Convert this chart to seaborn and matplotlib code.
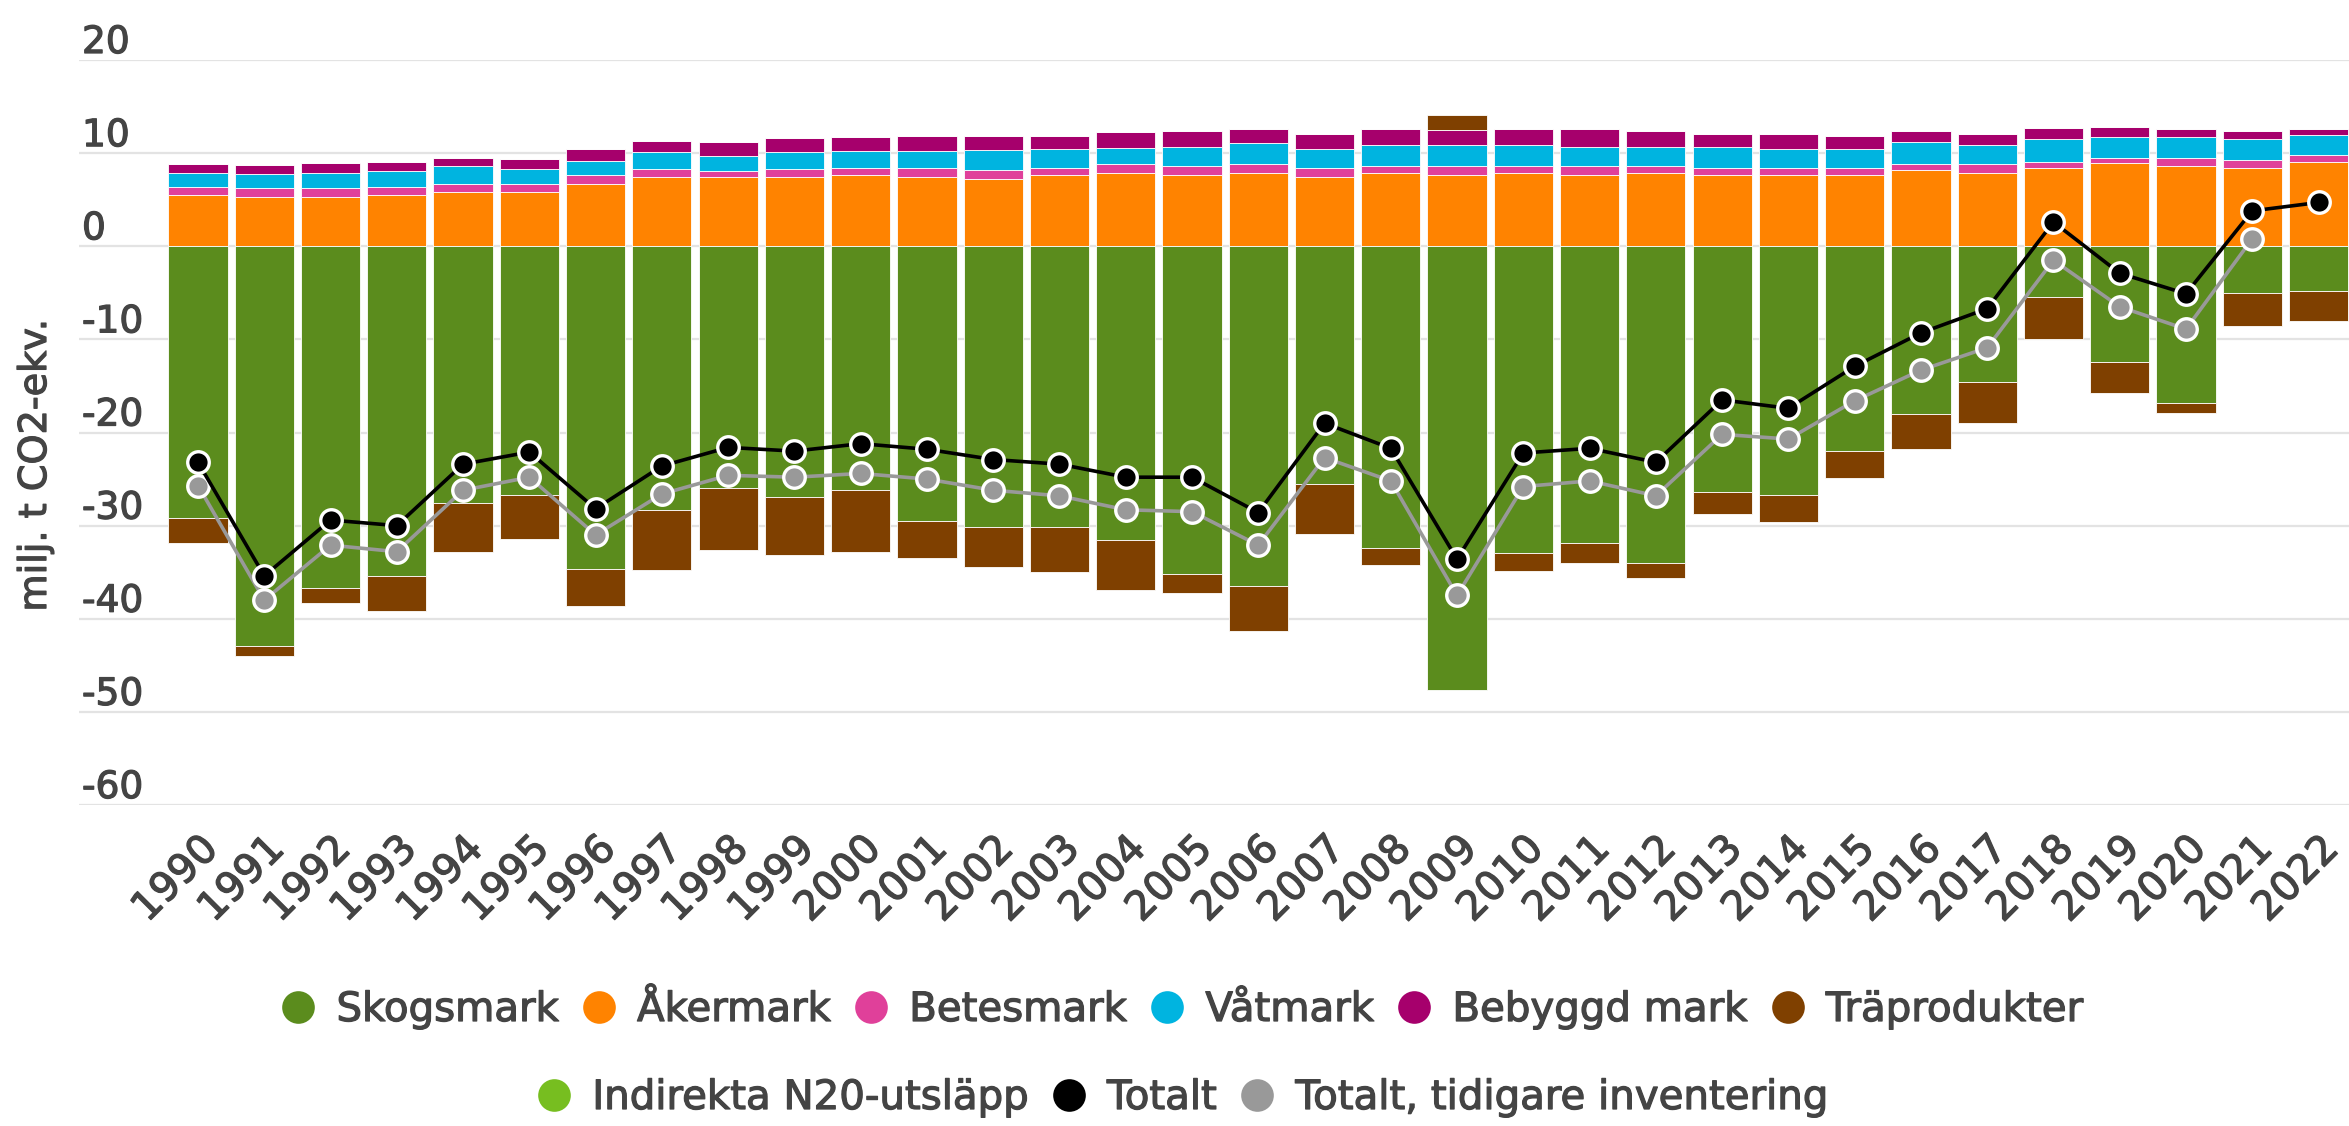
import numpy as np
import pandas as pd
import seaborn as sns
from matplotlib import pyplot as plt
from matplotlib import patheffects as pe
from matplotlib.lines import Line2D
from matplotlib.transforms import ScaledTranslation

years = [str(y) for y in range(1990, 2023)]

akermark = [5.5, 5.3, 5.3, 5.5, 5.8, 5.8, 6.7, 7.4, 7.4, 7.4, 7.6, 7.4, 7.2, 7.6, 7.9, 7.6, 7.9,
            7.4, 7.9, 7.6, 7.9, 7.6, 7.9, 7.6, 7.6, 7.6, 8.2, 7.9, 8.4, 8.9, 8.6, 8.4, 9.1]
betesmark = [0.9, 1.0, 1.0, 0.9, 0.9, 0.9, 0.9, 0.9, 0.7, 0.9, 0.8, 1.0, 1.0, 0.8, 0.9, 1.0, 0.9,
             1.0, 0.7, 1.0, 0.7, 1.0, 0.7, 0.8, 0.8, 0.8, 0.6, 0.9, 0.7, 0.6, 0.9, 0.9, 0.7]
vatmark = [1.5, 1.5, 1.6, 1.7, 1.9, 1.6, 1.6, 1.8, 1.6, 1.8, 1.8, 1.8, 2.1, 2.0, 1.8, 2.1, 2.3,
           2.0, 2.3, 2.3, 2.3, 2.1, 2.1, 2.3, 2.0, 2.0, 2.4, 2.1, 2.4, 2.2, 2.2, 2.2, 2.1]
bebyggd = [0.9, 0.9, 1.0, 1.0, 0.9, 1.1, 1.2, 1.2, 1.5, 1.5, 1.5, 1.6, 1.5, 1.4, 1.7, 1.7, 1.5,
           1.7, 1.7, 1.6, 1.7, 1.9, 1.7, 1.4, 1.7, 1.4, 1.2, 1.2, 1.2, 1.1, 0.9, 0.9, 0.7]
indirekta_n2o = [0.0, 0.0, 0.0, 0.0, 0.0, 0.0, 0.0, 0.0, 0.0, 0.0, 0.0, 0.0, 0.0, 0.0, 0.0, 0.0, 0.0,
                 0.0, 0.0, 0.0, 0.0, 0.0, 0.0, 0.0, 0.0, 0.0, 0.0, 0.0, 0.0, 0.0, 0.0, 0.0, 0.0]
skogsmark = [-29.2, -42.9, -36.7, -35.4, -27.6, -26.7, -34.7, -28.3, -26.0, -26.9, -26.2, -29.5,
             -30.1, -30.1, -31.5, -35.2, -36.5, -25.5, -32.4, -47.7, -32.9, -31.9, -34.0, -26.4,
             -26.7, -22.0, -18.0, -14.6, -5.4, -12.4, -16.8, -5.0, -4.8]
traprodukter = [-2.7, -1.1, -1.6, -3.8, -5.2, -4.7, -3.9, -6.5, -6.6, -6.3, -6.6, -4.0, -4.3, -4.9,
                -5.4, -2.0, -4.8, -5.4, -1.8, 1.6, -2.0, -2.1, -1.6, -2.3, -2.9, -2.9, -3.8, -4.4,
                -4.6, -3.4, -1.1, -3.6, -3.2]
totalt = [-23.2, -35.4, -29.4, -30.0, -23.4, -22.1, -28.2, -23.6, -21.6, -22.0, -21.2, -21.8, -22.9,
          -23.4, -24.8, -24.8, -28.6, -19.0, -21.7, -33.6, -22.2, -21.7, -23.2, -16.5, -17.4, -12.9,
          -9.3, -6.7, 2.6, -2.9, -5.1, 3.8, 4.7]
totalt_tidigare = [-25.7, -38.0, -32.1, -32.8, -26.2, -24.8, -31.0, -26.6, -24.6, -24.8, -24.4, -25.0,
                   -26.2, -26.8, -28.3, -28.5, -32.1, -22.7, -25.2, -37.5, -25.8, -25.2, -26.8, -20.2,
                   -20.7, -16.6, -13.3, -10.9, -1.5, -6.5, -8.9, 0.8, np.nan]

y_ticks = [-60, -50, -40, -30, -20, -10, 0, 10, 20]

colors = {
    "Skogsmark": "#5b8c1d",
    "Åkermark": "#ff8300",
    "Betesmark": "#e0409a",
    "Våtmark": "#00b4e0",
    "Bebyggd mark": "#a6006c",
    "Träprodukter": "#7f4000",
    "Indirekta N20-utsläpp": "#77be20",
    "Totalt": "#000000",
    "Totalt, tidigare inventering": "#999999",
}
text_col = "#444444"
bold = [pe.withStroke(linewidth=0.9, foreground=text_col)]

sns.set_theme(style="white")
plt.rcParams["font.family"] = ["DejaVu Sans"]

fig = plt.figure(figsize=(23.49, 11.26), dpi=100)
ax = fig.add_axes([79 / 2349, 1 - 805 / 1126, 1 - 79 / 2349, (805 - 60) / 1126])

bar_kw = dict(order=years, width=0.893, saturation=1, errorbar=None, ax=ax,
              edgecolor="white", linewidth=0.6)

# positive stack
pos_layers = [("Åkermark", akermark), ("Betesmark", betesmark), ("Våtmark", vatmark),
              ("Bebyggd mark", bebyggd), ("Indirekta N20-utsläpp", indirekta_n2o)]
bottom = np.zeros(len(years))
for name, vals in pos_layers:
    vals = np.array(vals)
    sns.barplot(x=years, y=vals, bottom=bottom, color=colors[name], **bar_kw)
    bottom = bottom + vals
pos_top = bottom

# negative stack
skog = np.array(skogsmark)
sns.barplot(x=years, y=skog, color=colors["Skogsmark"], **bar_kw)
tra = np.array(traprodukter)
tra_bottom = np.where(tra < 0, skog, pos_top)
sns.barplot(x=years, y=tra, bottom=tra_bottom, color=colors["Träprodukter"], **bar_kw)

pos = np.arange(len(years))
line_kw = dict(marker="o", markersize=15.5, markeredgecolor="white", markeredgewidth=2.4,
               linewidth=2.6, ax=ax, legend=False, zorder=5)
sns.lineplot(x=pos, y=np.array(totalt_tidigare), color=colors["Totalt, tidigare inventering"],
             markerfacecolor=colors["Totalt, tidigare inventering"], **line_kw)
sns.lineplot(x=pos, y=np.array(totalt), color=colors["Totalt"],
             markerfacecolor=colors["Totalt"], **line_kw)

ax.set_xlim(-1.796, 32.46)
ax.set_ylim(-60, 20)
ax.set_xlabel("")
ax.set_ylabel("")
for s in ax.spines.values():
    s.set_visible(False)

ax.set_yticks(y_ticks)
ax.set_yticklabels([])
ax.tick_params(axis="y", left=False, length=0)
ax.yaxis.grid(True, color="#e3e3e3", linewidth=1.6)
ax.xaxis.grid(False)
ax.set_axisbelow(True)

ylab_tr = ax.get_yaxis_transform() + ScaledTranslation(3 / 100, 7 / 100, fig.dpi_scale_trans)
for t in y_ticks:
    ax.text(0, t, str(t), transform=ylab_tr, ha="left", va="baseline",
            fontsize=27, color=text_col, path_effects=bold)

ax.tick_params(axis="x", length=0, pad=0, labelsize=29, labelcolor=text_col)
shift = ScaledTranslation(0.14, -0.38, fig.dpi_scale_trans)
for lbl in ax.get_xticklabels():
    lbl.set_rotation(45)
    lbl.set_horizontalalignment("right")
    lbl.set_verticalalignment("center")
    lbl.set_rotation_mode("anchor")
    lbl.set_transform(lbl.get_transform() + shift)
    lbl.set_path_effects(bold)

fig.text(36 / 2349, 1 - 465 / 1126, "milj. t CO2-ekv.", rotation=90, ha="center", va="center",
         fontsize=27.5, color=text_col, path_effects=bold)


def handle(name):
    return Line2D([], [], marker="o", linestyle="", markersize=23.5, markeredgewidth=0,
                  markerfacecolor=colors[name], label=name)


row1 = ["Skogsmark", "Åkermark", "Betesmark", "Våtmark", "Bebyggd mark", "Träprodukter"]
row2 = ["Indirekta N20-utsläpp", "Totalt", "Totalt, tidigare inventering"]
leg_kw = dict(loc="center", frameon=False, fontsize=29, handlelength=0.8, handletextpad=0.55,
              columnspacing=0.6, borderaxespad=0, borderpad=0, labelcolor=text_col)
legends = [
    fig.legend(handles=[handle(n) for n in row1], ncol=6, bbox_to_anchor=(0.5035, 1 - 1010 / 1126), **leg_kw),
    fig.legend(handles=[handle(n) for n in row2], ncol=3, bbox_to_anchor=(0.5035, 1 - 1098 / 1126), **leg_kw),
]
for leg in legends:
    for txt in leg.get_texts():
        txt.set_path_effects(bold)

fig.savefig("out.png", dpi=100)
